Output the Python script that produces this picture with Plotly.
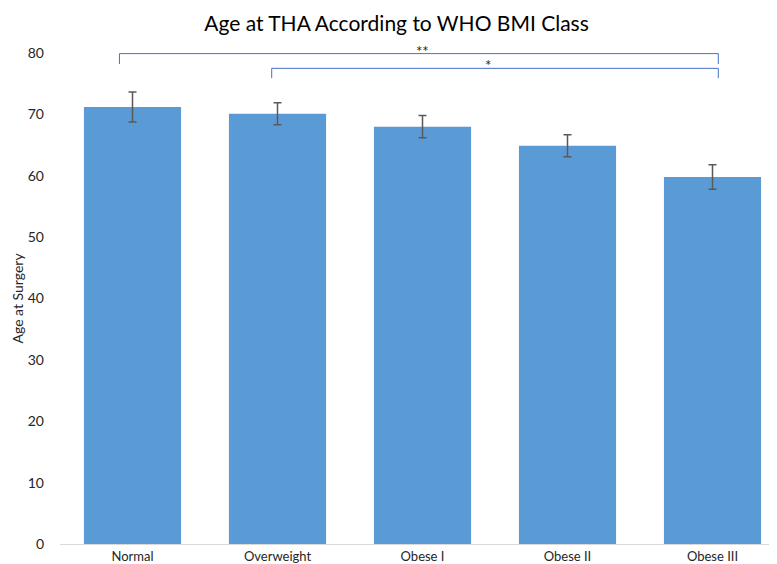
import plotly.graph_objects as go

categories = ["Normal", "Overweight", "Obese I", "Obese II", "Obese III"]
mean_age = [71.2, 70.1, 68.0, 64.9, 59.8]
error_sd = [2.45, 1.8, 1.8, 1.8, 2.0]

# significance brackets
bracket_start = [-0.09, 0.96]
bracket_end = [4.04, 4.04]
bracket_y = [79.9, 77.5]
bracket_drop = [1.7, 1.6]
bracket_label = ["**", "*"]
label_x = [2.0, 2.45]

font_family = "Lato, 'Open Sans', sans-serif"
text_color = "#262626"

fig = go.Figure()
fig.add_trace(go.Bar(
    x=categories, y=mean_age,
    marker=dict(color="#5B9BD5", line=dict(width=0)),
    error_y=dict(type="data", array=error_sd, visible=True,
                 color="#595959", thickness=1.5, width=4),
))

shapes = []
annotations = []
for xs, xe, yv, d, lab, lx in zip(bracket_start, bracket_end, bracket_y, bracket_drop, bracket_label, label_x):
    line = dict(color="#4472C4", width=1)
    shapes.append(dict(type="line", xref="x", yref="y", x0=xs, x1=xe, y0=yv, y1=yv, line=line))
    shapes.append(dict(type="line", xref="x", yref="y", x0=xs, x1=xs, y0=yv, y1=yv - d, line=line))
    shapes.append(dict(type="line", xref="x", yref="y", x0=xe, x1=xe, y0=yv, y1=yv - d, line=line))
    annotations.append(dict(x=lx, y=yv, xref="x", yref="y",
                            text=lab, showarrow=False, yanchor="middle", yshift=3,
                            font=dict(size=15, color=text_color, family=font_family)))

annotations.append(dict(text="Age at Surgery", xref="paper", yref="paper", x=0, y=0.5,
                        xshift=-43, textangle=-90, showarrow=False,
                        xanchor="center", yanchor="middle",
                        font=dict(size=14, color=text_color, family=font_family)))

fig.update_layout(
    width=777, height=564,
    margin=dict(l=52, r=0, t=45, b=28),
    paper_bgcolor="white", plot_bgcolor="white",
    bargap=0.33,
    showlegend=False,
    title=dict(text="Age at THA According to WHO BMI Class", x=0.5, xanchor="center",
               y=0.972, yanchor="middle", yref="container",
               font=dict(size=21, color="#000000", family=font_family)),
    font=dict(family=font_family, color=text_color, size=13),
    shapes=shapes,
    annotations=annotations,
    xaxis=dict(showline=True, linecolor="#D9D9D9", linewidth=1, ticks="",
               tickfont=dict(size=13, color=text_color), showgrid=False),
    yaxis=dict(range=[0, 80], dtick=10, showgrid=False, showline=False, zeroline=False,
               ticks="", ticklabelstandoff=15,
               tickfont=dict(size=14, color=text_color)),
)

fig.write_html("out.html")
